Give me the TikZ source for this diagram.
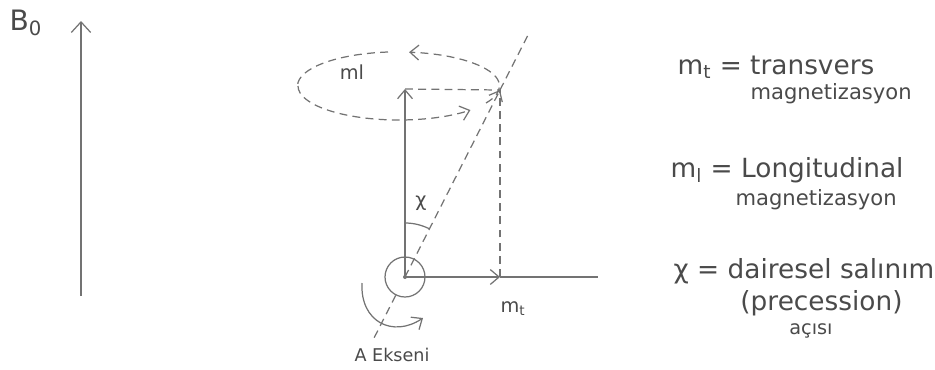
\documentclass[tikz,border=0pt]{standalone}
\usepackage{fontspec}
\setmainfont{DejaVu Sans}
\usepackage{tikz}
\usetikzlibrary{arrows.meta,positioning}
\definecolor{pencil}{HTML}{737373}
\definecolor{ink}{HTML}{4A4A4A}

\begin{document}
\begin{tikzpicture}[x=0.02cm,y=-0.02cm,>={Straight Barb[length=5pt,width=8.5pt]},line width=0.7pt,color=pencil]
\tikzstyle{dashline}=[dash pattern=on 4.5pt off 3pt]
\tikzstyle{lbl}=[inner sep=0pt,text=ink,font=\fontsize{15}{17}\selectfont]
\tikzstyle{sublbl}=[inner sep=0pt,text=ink,font=\fontsize{11}{13}\selectfont]
\useasboundingbox (0,0) rectangle (935,369);
% field B0
\coordinate (b0bot) at (81,296);
\coordinate (b0top) at (81,21);
\draw[-{Straight Barb[length=6pt,width=11pt]}] (b0bot) -- (b0top);
\node[lbl,font=\fontsize{16}{18}\selectfont] (b0) at (26,23) {B\textsubscript{0}};
% origin and vectors
\coordinate (O) at (405,277);
\coordinate (P) at (500,90);
\coordinate (ltip) at (405,89);
\coordinate (Q) at (500,277);
\coordinate (xend) at (598,277);
\coordinate (axtop) at (528,35);
\coordinate (axbot) at (373,340);
\node[draw,circle,minimum size=0.8cm,inner sep=0pt] (core) at (O) {};
\fill (O) circle[radius=2];
\draw[->] (O) -- (ltip);
\draw[->] (O) -- (Q);
\draw (Q) -- (xend);
\draw[dashline] (ltip) -- (P);
\draw[dashline] (Q) -- (P);
\draw[dashline,->] (O) -- (P);
\draw[dashline] (P) -- (axtop);
\draw[dashline] (core) -- (axbot);
% precession ellipse
\coordinate (ellw) at (298,86);
\coordinate (ellr) at (486,103);
\coordinate (ellt) at (388,52);
\draw[dashline,->] (ellw) arc[start angle=180,end angle=45,x radius=101,y radius=34];
\draw[dashline,->] (ellr) arc[start angle=30,end angle=-84,x radius=101,y radius=34];
\draw[dashline] (ellt) arc[start angle=-96,end angle=-180,x radius=101,y radius=34];
\node[sublbl] (ml) at (352,72) {ml};
% angle chi
\coordinate (chia) at (405,223);
\draw (chia) arc[start angle=-90,end angle=-63,radius=54];
\node[sublbl] (chi) at (421,203) {χ};
% rotation about the axis
\coordinate (rs) at (362,283);
\coordinate (re) at (423,318);
\draw[->] (rs) .. controls (360,322) and (393,338) .. (re);
\node[sublbl] (mt) at (513,309) {m\textsubscript{t}};
\node[inner sep=0pt,text=ink,font=\fontsize{10}{12}\selectfont] (axis) at (392,355) {A Ekseni};
% legend
\node[lbl,anchor=west] (mtdef) at (677,67) {m\textsubscript{t} = transvers};
\node[sublbl,font=\fontsize{12}{14}\selectfont,anchor=west] (mtdef2) at (750,94) {magnetizasyon};
\node[lbl,anchor=west] (mldef) at (670,170) {m\textsubscript{l} = Longitudinal};
\node[sublbl,font=\fontsize{12}{14}\selectfont,anchor=west] (mldef2) at (735,200) {magnetizasyon};
\node[lbl,anchor=west] (chidef) at (673,271) {χ = dairesel salınım};
\node[lbl,below=3pt of chidef,xshift=10pt] (chidef2) {(precession)};
\node[sublbl,below=4pt of chidef2,xshift=-6pt] (chidef3) {açısı};
\end{tikzpicture}
\end{document}
